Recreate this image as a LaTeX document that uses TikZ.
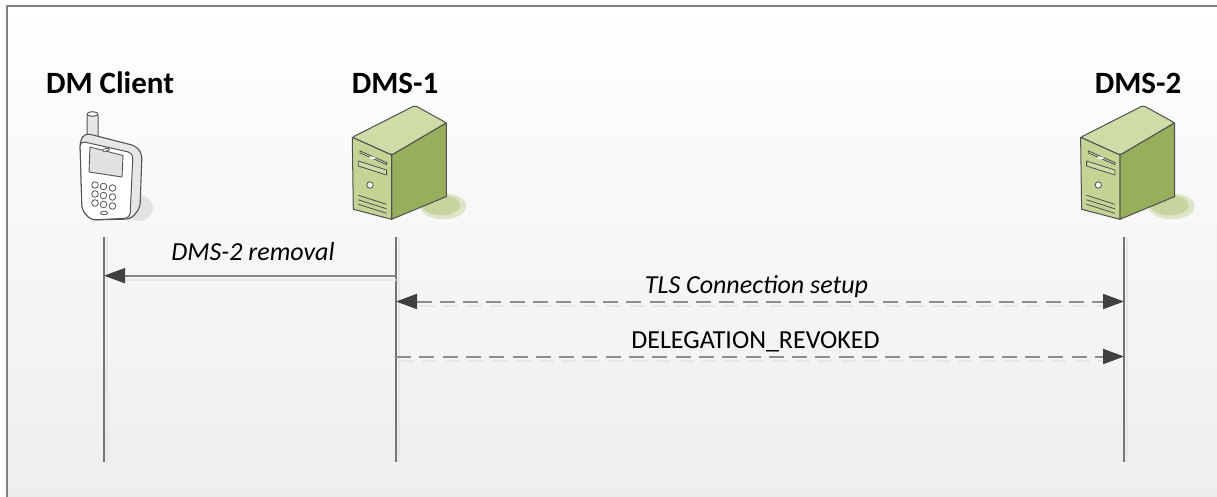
\documentclass[tikz,border=0pt]{standalone}
\usepackage{fontspec}
\setmainfont{Carlito}
\usetikzlibrary{arrows.meta}
\definecolor{bgbottom}{HTML}{EEEEEE}
\definecolor{bgmid}{HTML}{F7F7F7}
\definecolor{framegray}{HTML}{808080}
\definecolor{lifegray}{HTML}{747474}
\definecolor{msggray}{HTML}{858585}
\definecolor{dashgray}{HTML}{8E8E8E}
\definecolor{tipdark}{HTML}{404040}
\definecolor{shadowgray}{HTML}{E6E6E6}
\definecolor{srvfront}{HTML}{C4D495}
\definecolor{srvside}{HTML}{97AF5C}
\definecolor{srvtop}{HTML}{CEDCA8}
\definecolor{srvline}{HTML}{4F4F4F}
\definecolor{srvshadow}{HTML}{C6D5A0}
\definecolor{srvshadowlt}{HTML}{DCE5C6}
\definecolor{phoneline}{HTML}{555555}
\definecolor{phoneside}{HTML}{E6E6E6}
\definecolor{phoneshadow}{HTML}{E2E2E2}
\definecolor{screengray}{HTML}{E2E2E2}
\tikzset{
  server/.pic={
    \fill[srvshadowlt] (91,69) ellipse [x radius=23, y radius=13];
    \fill[srvshadow] (89,68) ellipse [x radius=19, y radius=10];
    \draw[srvline, line width=1pt, fill=srvside] (39.3,17.7) -- (94,-14.5) -- (94,59.3) -- (39.3,82) -- cycle;
    \draw[srvline, line width=1pt, fill=srvtop, rounded corners=2pt] (0,0) -- (62.7,-31.8) -- (94,-14.5) -- (39.3,17.7) -- cycle;
    \draw[srvline, line width=1pt, fill=srvfront] (0,0) -- (39.3,17.7) -- (39.3,82) -- (1,72) -- cycle;
    \draw[srvline, line width=0.8pt, fill=srvtop] (7.7,13.6) -- (34.3,25.3) -- (34.3,27.3) -- (7.7,15.6) -- cycle;
    \fill[white] (20,20.5) ellipse [x radius=3, y radius=1.3];
    \draw[srvline, line width=0.8pt, fill=srvtop] (6,23.7) -- (34.3,32.7) -- (34.3,37.7) -- (6,28.7) -- cycle;
    \draw[srvline, line width=0.8pt, fill=white] (17.7,47.7) circle [radius=3.2];
    \draw[srvline, line width=0.8pt] (6,58) -- (34.3,67) (6,62.5) -- (34.3,71.5) (6,67) -- (34.3,76);
  },
  title/.style={font=\bfseries\fontsize{31}{36}\selectfont, anchor=base, inner sep=0pt, text=black},
  msglabel/.style={font=\fontsize{26}{30}\selectfont, anchor=base, inner sep=0pt, text=black},
  lifeline/.style={draw=lifegray, line width=1.7pt},
  lifeshadow/.style={draw=shadowgray, line width=1.7pt},
  solidmsg/.style={draw=msggray, line width=1.8pt, -{Triangle[length=21pt,width=15pt,color=tipdark]}},
  dashmsg/.style={draw=dashgray, line width=2pt, dash pattern=on 15pt off 8.3pt},
  dashmsgR/.style={dashmsg, -{Triangle[length=21pt,width=15pt,color=tipdark]}},
  dashmsgLR/.style={dashmsg, {Triangle[length=21pt,width=15pt,color=tipdark]}-{Triangle[length=21pt,width=15pt,color=tipdark]}},
  shadowline/.style={draw=shadowgray, line width=2pt},
}
\begin{document}
\begin{tikzpicture}[x=1pt,y=-1pt,line join=round]
\useasboundingbox (0,0) rectangle (1217,497);
\fill[white] (0,0) rectangle (1217,497);
\shade[top color=white, bottom color=bgbottom] (7,6) rectangle (1217,497);
\draw[framegray, line width=2pt] (7,497) -- (7,6) -- (1217,6);

% titles
\node[title] (tClient) at (110,93.3) {DM Client};
\node[title] (tDms1) at (395,93.3) {DMS-1};
\node[title] (tDms2) at (1138,93.3) {DMS-2};

% phone
\fill[phoneshadow] (138,208) ellipse [x radius=15, y radius=13];
\draw[phoneline, line width=1pt, fill=phoneside, rounded corners=1.5pt] (87,137) -- (87,114) -- (98,114) -- (98,140) -- cycle;
\draw[phoneline, line width=1pt, fill=white] (92.5,114) ellipse [x radius=5.5, y radius=2.3];
\draw[phoneline, line width=1.1pt, fill=phoneside, rounded corners=5pt] (80,141) -- (85,133) -- (136,146) -- (142,154) -- (140,208) -- (131,219) -- (91,220) -- (82,210) -- cycle;
\draw[phoneline, line width=1pt, fill=white, rounded corners=5pt] (80,141) -- (133,153) -- (130,218) -- (91,220) -- (82,210) -- cycle;
\draw[phoneline, line width=0.9pt, fill=screengray] (90,147) -- (123,155.5) -- (122,177) -- (89,172) -- cycle;
\draw[phoneline, line width=0.8pt, fill=white, rotate around={14:(106,149.8)}] (106,149.8) ellipse [x radius=3.5, y radius=1.4];
\foreach \cx/\dy in {95/0,103.5/1.5,112.5/3}{
  \foreach \ry in {185,194,203}{
    \draw[phoneline, line width=0.8pt, fill=white] (\cx,\ry+\dy) circle [radius=3.3];
  }
}
\draw[phoneline, line width=0.8pt, fill=white] (104,213) ellipse [x radius=3.5, y radius=1.8];

% servers
\pic at (352.3,137.3) {server};
\pic at (1080.6,137.3) {server};

% lifelines
\coordinate (cTop) at (104,237);
\coordinate (cBot) at (104,462);
\coordinate (aTop) at (396,237);
\coordinate (aBot) at (396,462);
\coordinate (bTop) at (1124,237);
\coordinate (bBot) at (1124,462);
\draw[lifeshadow] ([xshift=3pt]cTop) -- ([xshift=3pt]cBot);
\draw[lifeshadow] ([xshift=3pt]aTop) -- ([xshift=3pt]aBot);
\draw[lifeshadow] ([xshift=3pt]bTop) -- ([xshift=3pt]bBot);
\draw[lifeline] (cTop) -- (cBot);
\draw[lifeline] (aTop) -- (aBot);
\draw[lifeline] (bTop) -- (bBot);

% messages
\coordinate (m1a) at (396,275.7);
\coordinate (m1c) at (104,275.7);
\coordinate (m2a) at (396,301.5);
\coordinate (m2b) at (1124,301.5);
\coordinate (m3a) at (396,356.5);
\coordinate (m3b) at (1124,356.5);

\draw[shadowline] ([yshift=-4pt]m1a) -- ([yshift=-4pt,xshift=16pt]m1c);
\draw[shadowline, dash pattern=on 15pt off 8.3pt] ([yshift=-4pt,xshift=24pt]m2a) -- ([yshift=-4pt,xshift=-18pt]m2b);
\draw[shadowline, dash pattern=on 15pt off 8.3pt] ([yshift=-4pt,xshift=3pt]m3a) -- ([yshift=-4pt,xshift=-18pt]m3b);

\draw[solidmsg] (m1a) -- (m1c);
\draw[dashmsgLR] (m2a) -- (m2b);
\draw[dashmsgR] (m3a) -- (m3b);

\node[msglabel] (l1) at (253,260.7) {\itshape DMS-2 removal};
\node[msglabel] (l2) at (756.5,293) {\itshape TLS Connection setup};
\node[msglabel] (l3) at (755.5,348.3) {DELEGATION\_REVOKED};
\end{tikzpicture}
\end{document}
